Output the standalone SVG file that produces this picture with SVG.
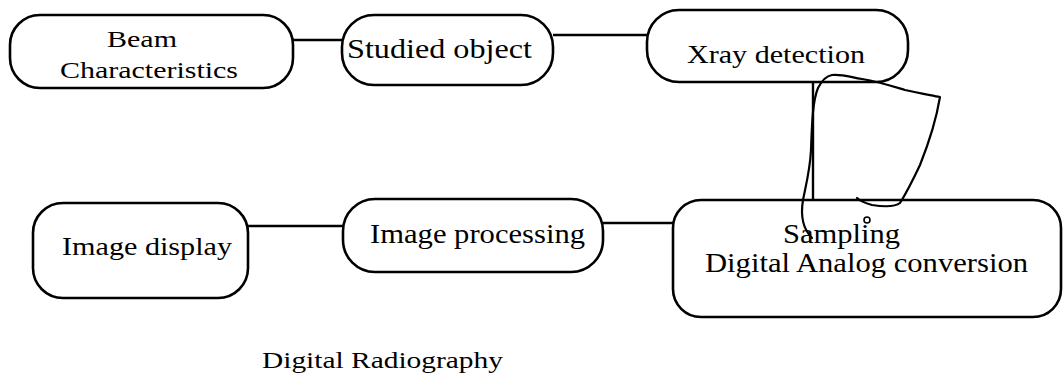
<svg xmlns="http://www.w3.org/2000/svg" width="1063" height="379" viewBox="0 0 1063 379">
<style>
.box{fill:none;stroke:#000;stroke-width:2.6}
.con{fill:none;stroke:#000;stroke-width:2.4}
.scr{fill:none;stroke:#000;stroke-width:2.2;stroke-linejoin:round;stroke-linecap:round}
text{font-family:"Liberation Serif","Times New Roman",serif;font-size:27px;fill:#000}
.sm{font-size:23px}
</style>
<rect width="1063" height="379" fill="#fff"/>
<g id="connectors">
<line class="con" x1="293" y1="40" x2="342" y2="40"/>
<line class="con" x1="553" y1="35" x2="647" y2="35"/>
<line class="con" x1="813" y1="82" x2="813" y2="200"/>
<line class="con" x1="248" y1="226" x2="343" y2="226"/>
<line class="con" x1="603" y1="223" x2="673" y2="223"/>
</g>
<g id="beam">
<rect class="box" x="10" y="15" width="283" height="73" rx="30" ry="30"/>
<text class="sm" x="107" y="47" textLength="70" lengthAdjust="spacingAndGlyphs">Beam</text>
<text class="sm" x="60" y="78" textLength="178" lengthAdjust="spacingAndGlyphs">Characteristics</text>
</g>
<g id="studied">
<rect class="box" x="342" y="15" width="211" height="70" rx="32" ry="32"/>
<text x="347" y="58" style="font-size:28px" textLength="185" lengthAdjust="spacingAndGlyphs">Studied object</text>
</g>
<g id="xray">
<rect class="box" x="647" y="10" width="261" height="72" rx="32" ry="32"/>
<text x="687" y="63" style="font-size:26px" textLength="178" lengthAdjust="spacingAndGlyphs">Xray detection</text>
</g>
<g id="display">
<rect class="box" x="33" y="203" width="215" height="95" rx="30" ry="30"/>
<text x="62" y="255" style="font-size:26px" textLength="170" lengthAdjust="spacingAndGlyphs">Image display</text>
</g>
<g id="processing">
<rect class="box" x="343" y="199" width="260" height="73" rx="32" ry="32"/>
<text x="370" y="243" style="font-size:28px" textLength="215" lengthAdjust="spacingAndGlyphs">Image processing</text>
</g>
<g id="sampling">
<rect class="box" x="673" y="200" width="388" height="117" rx="28" ry="28"/>
<text x="783" y="243" textLength="117" lengthAdjust="spacingAndGlyphs">Sampling</text>
<text x="705" y="272" textLength="323" lengthAdjust="spacingAndGlyphs">Digital Analog conversion</text>
</g>
<path class="scr" d="M812 238 C804 230 800 218 803 200 C806 185 810 170 811 150 C812 120 813 100 818 88 C822 80 826 76 832 75 C842 74 850 77 862 79 C880 82 895 87 905 90 C918 93 930 95 940 97 C937 115 930 140 920 165 C912 182 905 195 900 203 C895 207 885 207 872 205 C865 203 860 201 857 198"/>
<circle cx="867" cy="220" r="3" fill="none" stroke="#000" stroke-width="1.6"/>
<text class="sm" x="262" y="368" textLength="241" lengthAdjust="spacingAndGlyphs">Digital Radiography</text>
</svg>
